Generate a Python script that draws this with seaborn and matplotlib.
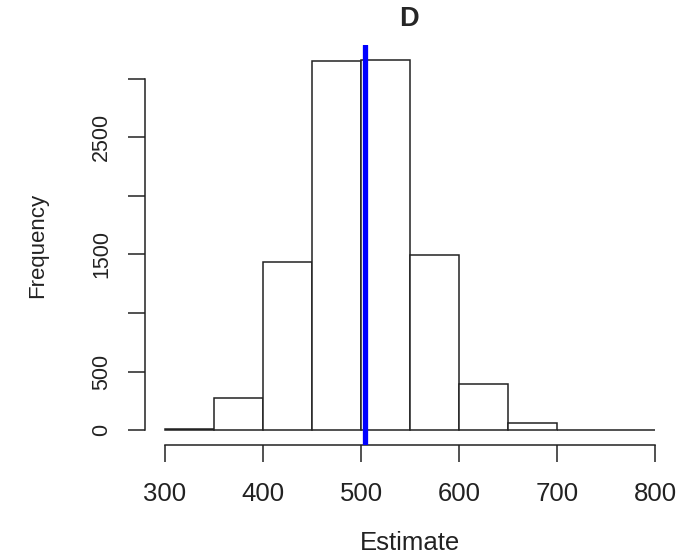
import numpy as np
import matplotlib
matplotlib.use("Agg")
import matplotlib.pyplot as plt
import seaborn as sns

# Histogram of simulated estimates (bin edges and counts per bin)
bin_edges = [300, 350, 400, 450, 500, 550, 600, 650, 700, 750, 800]
counts = [10, 271, 1432, 3151, 3162, 1497, 390, 60, 4, 1]
mean_estimate = 503.5

x_ticks = [300, 400, 500, 600, 700, 800]
y_ticks = [0, 500, 1000, 1500, 2000, 2500, 3000]
y_ticklabels = ["0", "500", "", "1500", "", "2500", ""]

sns.set_style("white")
plt.rcParams["font.family"] = ["Liberation Sans", "DejaVu Sans"]

fig = plt.figure(figsize=(6.97, 5.57), dpi=100)
ax = fig.add_axes([0.2086, 0.2011, 0.7598, 0.7181])

mids = [(a + b) / 2 for a, b in zip(bin_edges[:-1], bin_edges[1:])]
sns.histplot(x=mids, weights=counts, bins=bin_edges, ax=ax,
             color="white", edgecolor="#222222", linewidth=1.1, alpha=1)

ymax = max(counts)
ax.set_xlim(300 - 0.04 * 500, 800 + 0.04 * 500)
ax.set_ylim(-0.04 * ymax, ymax * 1.04)

ax.axvline(mean_estimate, color="#0000ff", linewidth=3.8, zorder=5)

for side in ["top", "right"]:
    ax.spines[side].set_visible(False)
for side in ["left", "bottom"]:
    ax.spines[side].set_color("#222222")
    ax.spines[side].set_linewidth(1.1)
ax.spines["left"].set_bounds(0, 3000)
ax.spines["bottom"].set_bounds(300, 800)

ax.set_xticks(x_ticks)
ax.set_xticklabels([str(v) for v in x_ticks])
ax.set_yticks(y_ticks)
ax.set_yticklabels(y_ticklabels, rotation=90, va="center")
ax.tick_params(axis="both", bottom=True, left=True, direction="out",
               length=12, width=1.1, color="#222222", labelcolor="#222222")
ax.tick_params(axis="x", labelsize=18.5, pad=15)
ax.tick_params(axis="y", labelsize=15.5, pad=12)

ax.set_xlabel("Estimate", fontsize=18.5, color="#222222", labelpad=18)
ax.set_ylabel("Frequency", fontsize=16, color="#222222", labelpad=31)
ax.set_title("D", fontsize=19.5, fontweight="bold", pad=14, x=0.497)

fig.savefig("out.png", dpi=100)
